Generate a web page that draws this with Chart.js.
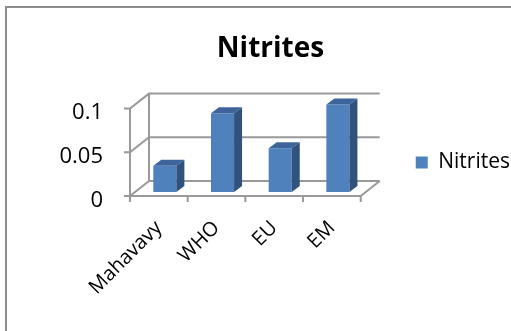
<!DOCTYPE html>
<html>
<head>
<meta charset="utf-8">
<script src="https://cdn.jsdelivr.net/npm/chart.js@4/dist/chart.umd.min.js"></script>
<style>
  html, body { margin: 0; padding: 0; background: #fff; }
  canvas { display: block; }
</style>
</head>
<body>
<canvas id="nitrites-chart" width="511" height="331"></canvas>
<script>
const categories = ['Mahavavy', 'WHO', 'EU', 'EM'];
const nitrites = [0.03, 0.09, 0.05, 0.1];
const yTicks = [0, 0.05, 0.1];

const frameColor = '#999999';
const depth = { x: 19, y: -15 };    // depth of floor and walls
const barDepth = { x: 8, y: -6 };   // depth of each column
const barShift = { x: 6, y: -4 };   // columns stand a bit behind the front edge

// draws the 3d box (walls, floor, ticks) and the top/side faces of the columns
const pseudo3d = {
  id: 'pseudo3d',
  beforeDraw(chart) {
    const ctx = chart.ctx;
    ctx.save();
    ctx.strokeStyle = '#8c8c8c';
    ctx.lineWidth = 2;
    ctx.strokeRect(6, 7, chart.width + 20, chart.height + 20);
    ctx.restore();
  },
  afterLayout(chart) {
    // legend sits further right and the title is centred over the box
    const lg = chart.legend;
    lg.left += 45; lg.right += 45;
    lg.top -= 3; lg.bottom -= 3;
    const t = chart.titleBlock;
    t.left += 33; t.right += 33;
  },
  beforeDatasetsDraw(chart) {
    const { ctx, chartArea: a, scales: { x, y } } = chart;
    ctx.save();
    ctx.strokeStyle = frameColor;
    ctx.lineWidth = 2;
    ctx.beginPath();
    yTicks.forEach(v => {
      const py = y.getPixelForValue(v);
      ctx.moveTo(a.left - 6, py);
      ctx.lineTo(a.left, py);
      ctx.lineTo(a.left + depth.x, py + depth.y);
      ctx.lineTo(a.right + depth.x, py + depth.y);
    });
    ctx.moveTo(a.left, a.top);
    ctx.lineTo(a.left, a.bottom);
    ctx.moveTo(a.left + depth.x, a.top + depth.y);
    ctx.lineTo(a.left + depth.x, a.bottom + depth.y);
    ctx.moveTo(a.left, a.bottom);
    ctx.lineTo(a.right, a.bottom);
    ctx.lineTo(a.right + depth.x, a.bottom + depth.y);
    const step = (a.right - a.left) / categories.length;
    for (let i = 0; i <= categories.length; i++) {
      const px = i < categories.length ? x.getPixelForValue(i) - step / 2 : x.getPixelForValue(i - 1) + step / 2;
      ctx.moveTo(px, a.bottom);
      ctx.lineTo(px, a.bottom + 6);
    }
    ctx.stroke();
    ctx.restore();

    ctx.save();
    ctx.translate(barShift.x, barShift.y);
  },
  afterDatasetsDraw(chart) {
    const ctx = chart.ctx;
    chart.getDatasetMeta(0).data.forEach(bar => {
      const { x: cx, y: top, base, width } = bar.getProps(['x', 'y', 'base', 'width'], true);
      const l = cx - width / 2, r = cx + width / 2;
      ctx.fillStyle = '#3d659b';
      ctx.beginPath();
      ctx.moveTo(l, top);
      ctx.lineTo(l + barDepth.x, top + barDepth.y);
      ctx.lineTo(r + barDepth.x, top + barDepth.y);
      ctx.lineTo(r, top);
      ctx.closePath();
      ctx.fill();
      ctx.fillStyle = '#30527c';
      ctx.beginPath();
      ctx.moveTo(r, top);
      ctx.lineTo(r + barDepth.x, top + barDepth.y);
      ctx.lineTo(r + barDepth.x, base + barDepth.y);
      ctx.lineTo(r, base);
      ctx.closePath();
      ctx.fill();
    });
    ctx.restore();
  }
};

new Chart('nitrites-chart', {
  type: 'bar',
  data: {
    labels: categories,
    datasets: [{
      label: 'Nitrites',
      data: nitrites,
      backgroundColor: '#4f81bd',
      borderWidth: 0,
      categoryPercentage: 1,
      barPercentage: 0.4,
      clip: false
    }]
  },
  options: {
    responsive: false,
    animation: false,
    layout: { padding: { left: 0, right: 36, top: 0, bottom: 0 } },
    plugins: {
      title: {
        display: true,
        text: 'Nitrites',
        color: '#000',
        font: { family: 'Open Sans', size: 28, weight: 'bold' },
        padding: { top: 32, bottom: 43 }
      },
      legend: {
        position: 'right',
        labels: {
          color: '#000',
          font: { family: 'Open Sans', size: 21 },
          boxWidth: 12,
          boxHeight: 12,
          padding: 10
        }
      },
      tooltip: { enabled: false }
    },
    scales: {
      x: {
        grid: { display: false, drawTicks: false },
        border: { display: false },
        ticks: {
          color: '#000',
          font: { family: 'Open Sans', size: 20, lineHeight: 0.1 },
          minRotation: 45,
          maxRotation: 45,
          autoSkip: false,
          padding: 28
        },
        afterFit(s) { s.height = 135; }
      },
      y: {
        min: 0,
        max: 0.1,
        grid: { display: false, drawTicks: false },
        border: { display: false },
        ticks: {
          color: '#000',
          font: { family: 'Open Sans', size: 22 },
          padding: 27,
          labelOffset: 4.5,
          callback: v => String(v)
        },
        afterBuildTicks(s) { s.ticks = yTicks.map(v => ({ value: v })); },
        afterFit(s) { s.width = 130; }
      }
    }
  },
  plugins: [pseudo3d]
});
</script>
</body>
</html>
